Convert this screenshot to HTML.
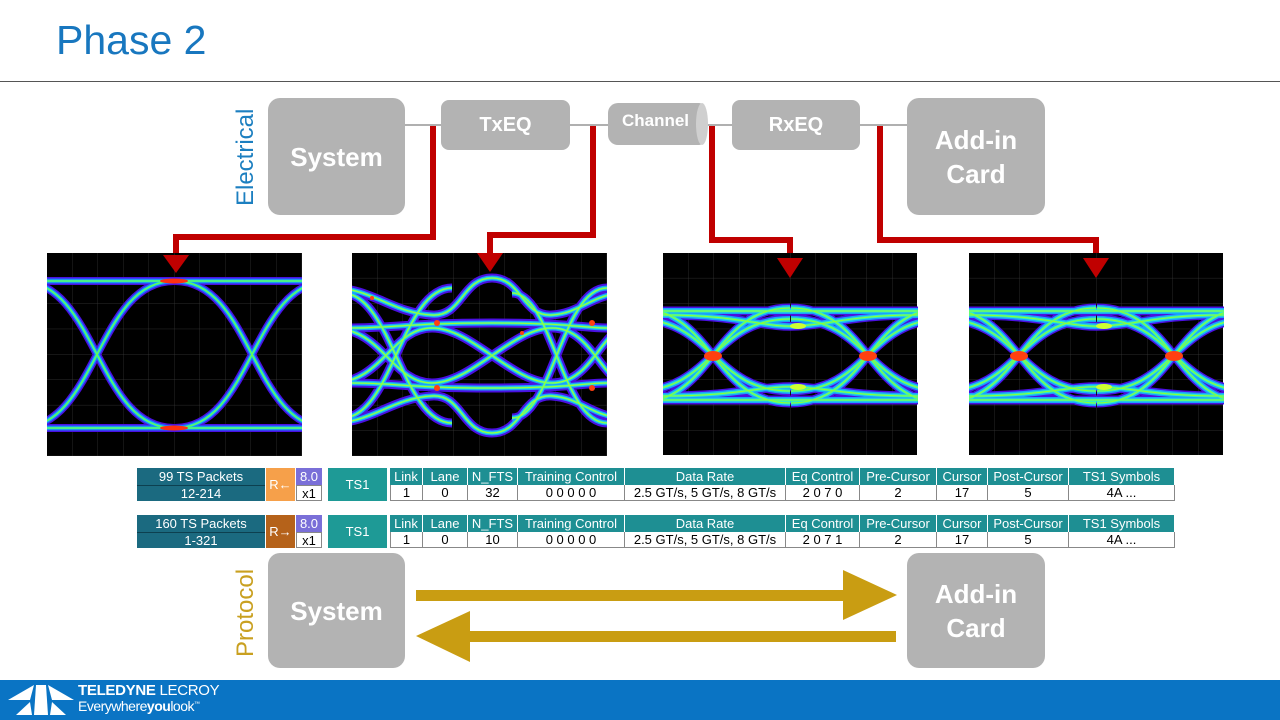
<!DOCTYPE html>
<html><head><meta charset="utf-8">
<style>
body{margin:0;width:1280px;height:720px;background:#fff;position:relative;overflow:hidden;font-family:"Liberation Sans",sans-serif}
.abs{position:absolute}
.box{position:absolute;background:#b3b3b3;border-radius:12px;color:#fff;font-weight:bold;display:flex;align-items:center;justify-content:center;text-align:center;line-height:34px}
.row{position:absolute;left:137px;height:35px;width:1040px;font-size:13px}
.c{position:absolute;display:flex;align-items:center;justify-content:center;box-sizing:border-box}
.h{background:#1e8f93;color:#fff;top:1px;height:17px;border-right:1px solid #fff}
.d{background:#fff;color:#000;top:18px;height:16px;border:1px solid #888;border-top:none;border-left:none}
</style></head><body>
<div class="abs" style="left:56px;top:17px;font-size:41px;color:#1877bf">Phase 2</div>
<div class="abs" style="left:0;top:81px;width:1280px;height:1px;background:#555"></div>
<div class="abs" style="left:232px;top:206px;transform:rotate(-90deg);transform-origin:0 0;font-size:24px;color:#1c7fc0;width:110px">Electrical</div>
<div class="abs" style="left:232px;top:657px;transform:rotate(-90deg);transform-origin:0 0;font-size:24px;color:#c9a020;width:110px">Protocol</div>
<div class="abs" style="left:405px;top:124px;width:502px;height:2px;background:#b0b0b0"></div>
<div class="box" style="left:268px;top:98px;width:137px;height:117px;font-size:26px">System</div>
<div class="box" style="left:441px;top:100px;width:129px;height:50px;font-size:20px;border-radius:8px">TxEQ</div>
<div class="box" style="left:608px;top:103px;width:95px;height:42px;font-size:17px;border-radius:10px 4px 4px 10px;align-items:flex-start;padding-top:2px;box-sizing:border-box;line-height:32px">Channel</div>
<div class="abs" style="left:696px;top:103px;width:12px;height:42px;background:#cfcfcf;border-radius:50%"></div>
<div class="box" style="left:732px;top:100px;width:128px;height:50px;font-size:20px;border-radius:8px">RxEQ</div>
<div class="box" style="left:907px;top:98px;width:138px;height:117px;font-size:26px">Add-in<br>Card</div>
<div class="box" style="left:268px;top:553px;width:137px;height:115px;font-size:26px">System</div>
<div class="box" style="left:907px;top:553px;width:138px;height:115px;font-size:26px">Add-in<br>Card</div>

<svg class="abs" style="left:0;top:0" width="1280" height="720">
<defs>
<clipPath id="cp"><rect width="255" height="203"/></clipPath>
<pattern id="gr" width="25.5" height="25.4" patternUnits="userSpaceOnUse"><path d="M25.5,0V25.4H0" fill="none" stroke="#3a3a3a" stroke-width="0.7"/></pattern>
<g id="e1"><path d="M-27,175 C50,175 50,28 127,28 M-27,28 C50,28 50,175 127,175 M128,175 C205,175 205,28 282,28 M128,28 C205,28 205,175 282,175 M0,28 H255 M0,175 H255"/></g>
<g id="e3"><path d="M-27,150 C50,150 50,55 127,55 M-27,55 C50,55 50,150 127,150 M128,150 C205,150 205,55 282,55 M128,55 C205,55 205,150 282,150 M-27,138 C50,138 50,66 127,66 M-27,66 C50,66 50,138 127,138 M128,138 C205,138 205,66 282,66 M128,66 C205,66 205,138 282,138 M0,58 H255 M0,147 H255 M0,62 C80,62 100,75 135,73 C170,71 190,62 255,62 M0,143 C80,143 100,132 135,134 C170,136 190,143 255,143"/></g>
<g id="e2"><path d="M-20,35 C20,35 40,60 80,62 C110,64 110,25 140,25 C170,25 170,64 200,62 C230,60 240,40 275,40 M-20,170 C20,170 40,145 80,143 C110,141 110,180 140,180 C170,180 170,141 200,143 C230,145 240,165 275,165 M-20,75 C30,75 40,130 80,130 C120,130 160,75 200,75 C240,75 250,130 275,130 M-20,130 C30,130 40,75 80,75 C120,75 160,130 200,130 C240,130 250,75 275,75 M0,75 C40,75 60,70 140,70 C220,70 230,75 255,75 M0,130 C40,130 60,135 140,135 C220,135 230,130 255,130 M-10,40 C40,40 50,170 100,170 M-10,165 C40,165 50,35 100,35 M160,40 C200,40 210,170 255,170 M160,165 C200,165 210,35 255,35"/></g>
</defs>
<g fill="none" stroke="#c00000" stroke-width="6">
<path d="M433,126 V237 H176 V262"/><path d="M593,126 V235 H490 V260"/>
<path d="M712,126 V240 H790 V264"/><path d="M880,126 V240 H1096 V264"/>
</g>
<g fill="#c99d12">
<rect x="416" y="590" width="432" height="11"/><path d="M843,570 L897,595 L843,620Z"/>
<rect x="466" y="631" width="430" height="11"/><path d="M470,611 L416,636 L470,662Z"/>
</g>
<g transform="translate(47,253)" clip-path="url(#cp)"><rect width="255" height="203" fill="#000"/><rect width="255" height="203" fill="url(#gr)"/>
<use href="#e1" fill="none" stroke="#4a10e0" stroke-width="8"/><use href="#e1" fill="none" stroke="#1a7aff" stroke-width="5"/><use href="#e1" fill="none" stroke="#20e0d0" stroke-width="2.5"/><use href="#e1" fill="none" stroke="#70ff40" stroke-width="1"/>
<ellipse cx="127" cy="28" rx="14" ry="2.5" fill="#ff3010"/><ellipse cx="127" cy="175" rx="14" ry="2.5" fill="#ff3010"/></g>
<g transform="translate(352,253)" clip-path="url(#cp)"><rect width="255" height="203" fill="#000"/><rect width="255" height="203" fill="url(#gr)"/>
<use href="#e2" fill="none" stroke="#4a10e0" stroke-width="9"/><use href="#e2" fill="none" stroke="#1aa0ff" stroke-width="5"/><use href="#e2" fill="none" stroke="#30f0c0" stroke-width="2.5"/><use href="#e2" fill="none" stroke="#a0ff30" stroke-width="1"/>
<g fill="#ff4010"><circle cx="85" cy="70" r="3"/><circle cx="85" cy="135" r="3"/><circle cx="240" cy="70" r="3"/><circle cx="240" cy="135" r="3"/><circle cx="20" cy="45" r="2"/><circle cx="170" cy="80" r="2"/></g></g>
<g transform="translate(663,253)" clip-path="url(#cp)"><rect width="254" height="202" fill="#000"/><rect width="254" height="202" fill="url(#gr)"/>
<use href="#e3" fill="none" stroke="#4a10e0" stroke-width="9"/><use href="#e3" fill="none" stroke="#1aa0ff" stroke-width="6"/><use href="#e3" fill="none" stroke="#30f0c0" stroke-width="3"/><use href="#e3" fill="none" stroke="#90ff30" stroke-width="1"/>
<ellipse cx="50" cy="103" rx="9" ry="5" fill="#ff4010"/><ellipse cx="205" cy="103" rx="9" ry="5" fill="#ff4010"/><ellipse cx="135" cy="73" rx="8" ry="3" fill="#d0ff30"/><ellipse cx="135" cy="134" rx="8" ry="3" fill="#d0ff30"/></g>
<g transform="translate(969,253)" clip-path="url(#cp)"><rect width="254" height="202" fill="#000"/><rect width="254" height="202" fill="url(#gr)"/>
<use href="#e3" fill="none" stroke="#4a10e0" stroke-width="9"/><use href="#e3" fill="none" stroke="#1aa0ff" stroke-width="6"/><use href="#e3" fill="none" stroke="#30f0c0" stroke-width="3"/><use href="#e3" fill="none" stroke="#90ff30" stroke-width="1"/>
<ellipse cx="50" cy="103" rx="9" ry="5" fill="#ff4010"/><ellipse cx="205" cy="103" rx="9" ry="5" fill="#ff4010"/><ellipse cx="135" cy="73" rx="8" ry="3" fill="#d0ff30"/><ellipse cx="135" cy="134" rx="8" ry="3" fill="#d0ff30"/></g>
<g fill="#c00000">
<path d="M163,255 L189,255 L176,273Z"/><path d="M477,253 L503,253 L490,272Z"/>
<path d="M777,258 L803,258 L790,278Z"/><path d="M1083,258 L1109,258 L1096,278Z"/>
</g>
</svg>

<div class="row" style="top:467px">
<div class="c" style="left:0;top:1px;width:128px;height:17px;background:#1b6a80;color:#fff">99 TS Packets</div>
<div class="c" style="left:0;top:18px;width:128px;height:16px;background:#1b6a80;color:#fff;border-top:1px solid #0d4050">12-214</div>
<div class="c" style="left:129px;top:1px;width:29px;height:33px;background:#f6a04a;color:#fff">R←</div>
<div class="c" style="left:159px;top:1px;width:26px;height:17px;background:#7a6fd8;color:#fff">8.0</div>
<div class="c" style="left:159px;top:18px;width:26px;height:16px;background:#fff;border:1px solid #888">x1</div>
<div class="c" style="left:191px;top:1px;width:59px;height:33px;background:#1e9a96;color:#fff">TS1</div>
<div class="c h" style="left:253px;width:33px">Link</div><div class="c h" style="left:286px;width:45px">Lane</div><div class="c h" style="left:331px;width:50px">N_FTS</div><div class="c h" style="left:381px;width:107px">Training Control</div><div class="c h" style="left:488px;width:161px">Data Rate</div><div class="c h" style="left:649px;width:74px">Eq Control</div><div class="c h" style="left:723px;width:77px">Pre-Cursor</div><div class="c h" style="left:800px;width:51px">Cursor</div><div class="c h" style="left:851px;width:81px">Post-Cursor</div><div class="c h" style="left:932px;width:106px">TS1 Symbols</div>
<div class="c d" style="left:253px;width:33px;border-left:1px solid #888">1</div><div class="c d" style="left:286px;width:45px">0</div><div class="c d" style="left:331px;width:50px">32</div><div class="c d" style="left:381px;width:107px">0 0 0 0 0</div><div class="c d" style="left:488px;width:161px">2.5 GT/s, 5 GT/s, 8 GT/s</div><div class="c d" style="left:649px;width:74px">2 0 7 0</div><div class="c d" style="left:723px;width:77px">2</div><div class="c d" style="left:800px;width:51px">17</div><div class="c d" style="left:851px;width:81px">5</div><div class="c d" style="left:932px;width:106px">4A ...</div>
</div>
<div class="row" style="top:514px">
<div class="c" style="left:0;top:1px;width:128px;height:17px;background:#1b6a80;color:#fff">160 TS Packets</div>
<div class="c" style="left:0;top:18px;width:128px;height:16px;background:#1b6a80;color:#fff;border-top:1px solid #0d4050">1-321</div>
<div class="c" style="left:129px;top:1px;width:29px;height:33px;background:#b5621a;color:#fff">R→</div>
<div class="c" style="left:159px;top:1px;width:26px;height:17px;background:#7a6fd8;color:#fff">8.0</div>
<div class="c" style="left:159px;top:18px;width:26px;height:16px;background:#fff;border:1px solid #888">x1</div>
<div class="c" style="left:191px;top:1px;width:59px;height:33px;background:#1e9a96;color:#fff">TS1</div>
<div class="c h" style="left:253px;width:33px">Link</div><div class="c h" style="left:286px;width:45px">Lane</div><div class="c h" style="left:331px;width:50px">N_FTS</div><div class="c h" style="left:381px;width:107px">Training Control</div><div class="c h" style="left:488px;width:161px">Data Rate</div><div class="c h" style="left:649px;width:74px">Eq Control</div><div class="c h" style="left:723px;width:77px">Pre-Cursor</div><div class="c h" style="left:800px;width:51px">Cursor</div><div class="c h" style="left:851px;width:81px">Post-Cursor</div><div class="c h" style="left:932px;width:106px">TS1 Symbols</div>
<div class="c d" style="left:253px;width:33px;border-left:1px solid #888">1</div><div class="c d" style="left:286px;width:45px">0</div><div class="c d" style="left:331px;width:50px">10</div><div class="c d" style="left:381px;width:107px">0 0 0 0 0</div><div class="c d" style="left:488px;width:161px">2.5 GT/s, 5 GT/s, 8 GT/s</div><div class="c d" style="left:649px;width:74px">2 0 7 1</div><div class="c d" style="left:723px;width:77px">2</div><div class="c d" style="left:800px;width:51px">17</div><div class="c d" style="left:851px;width:81px">5</div><div class="c d" style="left:932px;width:106px">4A ...</div>
</div>

<div class="abs" style="left:0;top:680px;width:1280px;height:40px;background:#0a74c4"></div>
<svg class="abs" style="left:8px;top:683px" width="66" height="34"><g fill="#fff"><path d="M0,17 L26,2 L22,17Z"/><path d="M28,2 L38,2 L40,32 L26,32Z"/><path d="M40,2 L66,17 L44,17Z"/><path d="M22,19 L24,32 L8,32Z"/><path d="M44,19 L58,32 L42,32Z"/></g></svg>
<div class="abs" style="left:78px;top:682px;color:#fff;font-size:15px;font-weight:bold;letter-spacing:-0.3px">TELEDYNE <span style="font-weight:normal">LECROY</span></div>
<div class="abs" style="left:78px;top:698px;color:#fff;font-size:14px;letter-spacing:-0.5px">Everywhere<b>you</b>look<sup style="font-size:6px">™</sup></div>
</body></html>
